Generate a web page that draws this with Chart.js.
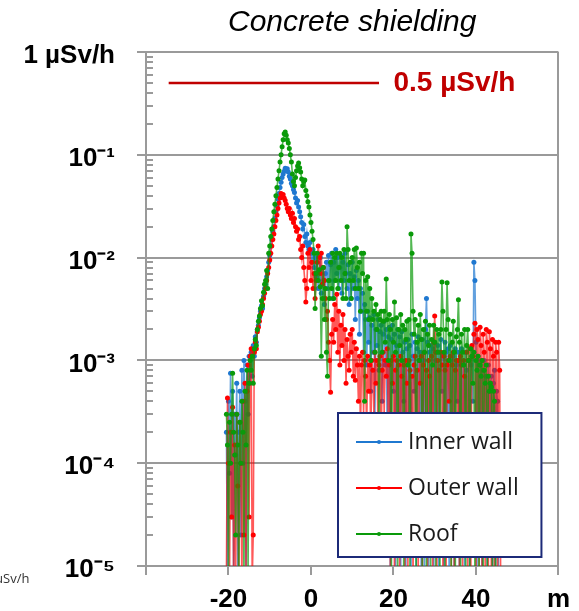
<!DOCTYPE html>
<html>
<head>
<meta charset="utf-8">
<script src="https://cdn.jsdelivr.net/npm/chart.js@4.4.1/dist/chart.umd.min.js"></script>
<style>
  html, body { margin: 0; padding: 0; background: #fff; }
</style>
</head>
<body>
<canvas id="myChart" width="579" height="611"></canvas>
<script>
// position along the survey line (m), 8 readings per row
var positions = [
  -20.5, -20.25, -20, -19.75, -19.5, -19.25, -19, -18.75,
  -18.5, -18.25, -18, -17.75, -17.5, -17.25, -17, -16.75,
  -16.5, -16.25, -16, -15.75, -15.5, -15.25, -15, -14.75,
  -14.5, -14.25, -14, -13.75, -13.5, -13.25, -13, -12.75,
  -12.5, -12.25, -12, -11.75, -11.5, -11.25, -11, -10.75,
  -10.5, -10.25, -10, -9.75, -9.5, -9.25, -9, -8.75,
  -8.5, -8.25, -8, -7.75, -7.5, -7.25, -7, -6.75,
  -6.5, -6.25, -6, -5.75, -5.5, -5.25, -5, -4.75,
  -4.5, -4.25, -4, -3.75, -3.5, -3.25, -3, -2.75,
  -2.5, -2.25, -2, -1.75, -1.5, -1.25, -1, -0.75,
  -0.5, -0.25, 0, 0.25, 0.5, 0.75, 1, 1.25,
  1.5, 1.75, 2, 2.25, 2.5, 2.75, 3, 3.25,
  3.5, 3.75, 4, 4.25, 4.5, 4.75, 5, 5.25,
  5.5, 5.75, 6, 6.25, 6.5, 6.75, 7, 7.25,
  7.5, 7.75, 8, 8.25, 8.5, 8.75, 9, 9.25,
  9.5, 9.75, 10, 10.25, 10.5, 10.75, 11, 11.25,
  11.5, 11.75, 12, 12.25, 12.5, 12.75, 13, 13.25,
  13.5, 13.75, 14, 14.25, 14.5, 14.75, 15, 15.25,
  15.5, 15.75, 16, 16.25, 16.5, 16.75, 17, 17.25,
  17.5, 17.75, 18, 18.25, 18.5, 18.75, 19, 19.25,
  19.5, 19.75, 20, 20.25, 20.5, 20.75, 21, 21.25,
  21.5, 21.75, 22, 22.25, 22.5, 22.75, 23, 23.25,
  23.5, 23.75, 24, 24.25, 24.5, 24.75, 25, 25.25,
  25.5, 25.75, 26, 26.25, 26.5, 26.75, 27, 27.25,
  27.5, 27.75, 28, 28.25, 28.5, 28.75, 29, 29.25,
  29.5, 29.75, 30, 30.25, 30.5, 30.75, 31, 31.25,
  31.5, 31.75, 32, 32.25, 32.5, 32.75, 33, 33.25,
  33.5, 33.75, 34, 34.25, 34.5, 34.75, 35, 35.25,
  35.5, 35.75, 36, 36.25, 36.5, 36.75, 37, 37.25,
  37.5, 37.75, 38, 38.25, 38.5, 38.75, 39, 39.25,
  39.5, 39.75, 40, 40.25, 40.5, 40.75, 41, 41.25,
  41.5, 41.75, 42, 42.25, 42.5, 42.75, 43, 43.25,
  43.5, 43.75, 44, 44.25, 44.5, 44.75, 45, 45.25,
  45.5, 45.75, 46
];

// dose rate, µSv/h
var innerWall = [
  2e-4, 6e-6, 4e-4, 8e-5, 7.5e-4, 3e-5, 5e-4, 7e-6,
  3e-4, 1.2e-4, 6e-4, 8e-6, 2e-4, 5e-4, 2e-5, 8e-4,
  1e-4, 1e-3, 4e-4, 9e-6, 9e-4, 3e-4, 1.1e-3, 6e-4,
  1.2e-3, 7e-4, 1.4e-3, 1.1e-3, 1.7e-3, 1.5e-3, 2e-3, 2.2e-3,
  2.6e-3, 3e-3, 3.4e-3, 3.2e-3, 4.2e-3, 5e-3, 5.5e-3, 6.5e-3,
  7.5e-3, 9e-3, 1.05e-2, 1.3e-2, 1.5e-2, 1.8e-2, 2e-2, 2.4e-2,
  2.8e-2, 3.2e-2, 3.7e-2, 4.2e-2, 4.8e-2, 5.4e-2, 6e-2, 6.5e-2,
  6.9e-2, 7.4e-2, 7.2e-2, 7.3e-2, 6.8e-2, 6.2e-2, 5.8e-2, 5.3e-2,
  5e-2, 4.6e-2, 4.3e-2, 3.8e-2, 3.4e-2, 3.6e-2, 3.1e-2, 2.8e-2,
  2.5e-2, 2.2e-2, 1.9e-2, 2.1e-2, 1.6e-2, 1.4e-2, 1.7e-2, 1.3e-2,
  1.2e-2, 1.4e-2, 1.1e-2, 9e-3, 1.2e-2, 8e-3, 1e-2, 6.5e-3,
  9e-3, 5e-3, 7.5e-3, 1e-2, 4.5e-3, 8e-3, 6e-3, 3.5e-3,
  7e-3, 9e-3, 5e-3, 1.05e-2, 6e-3, 8.5e-3, 1.1e-2, 4e-3,
  9e-3, 6e-3, 1.2e-2, 7e-3, 1e-2, 5e-3, 8e-3, 1.05e-2,
  4.5e-3, 9e-3, 6e-3, 1.1e-2, 7e-3, 5e-3, 8.5e-3, 3.5e-3,
  7e-3, 4e-3, 9e-3, 5e-3, 6.5e-3, 2.5e-3, 7.5e-3, 4e-3,
  6e-3, 1.8e-3, 5e-3, 3e-3, 4.5e-3, 1.2e-3, 3.5e-3, 2.5e-3,
  9e-4, 3e-3, 1.5e-3, 2.6e-3, 5e-4, 2.2e-3, 1.2e-3, 2.8e-3,
  3e-4, 2e-3, 1.4e-3, 2.5e-3, 8e-4, 1.9e-3, 2.2e-3, 4e-4,
  1.8e-3, 2.4e-3, 9e-4, 2e-3, 1.5e-4, 1.7e-3, 2.1e-3, 6e-6,
  1.6e-3, 2.2e-3, 5e-4, 1.8e-3, 8e-6, 1.4e-3, 2e-3, 3e-4,
  1.7e-3, 7e-6, 1.9e-3, 1.2e-3, 4e-4, 1.5e-3, 9e-6, 1.3e-3,
  1.6e-3, 2e-4, 1.4e-3, 6e-6, 1.8e-3, 1.1e-3, 5e-4, 1.5e-3,
  8e-6, 1.3e-3, 1.7e-3, 3e-4, 1.2e-3, 7e-6, 1.6e-3, 1e-3,
  9e-6, 2e-3, 4e-3, 1.5e-3, 6e-6, 1.2e-3, 1.4e-3, 2e-4,
  1.3e-3, 8e-6, 1.5e-3, 1e-3, 3e-4, 1.4e-3, 7e-6, 1.2e-3,
  1.6e-3, 5e-4, 1.1e-3, 6e-6, 1.5e-3, 1.2e-3, 2e-4, 1.3e-3,
  9e-6, 1.4e-3, 1e-3, 3e-4, 1.1e-3, 7e-6, 1.3e-3, 9e-4,
  4e-4, 1.2e-3, 8e-6, 1e-3, 1.3e-3, 2e-4, 9e-4, 6e-6,
  1.2e-3, 8e-4, 3e-4, 1e-3, 7e-6, 9e-4, 1.1e-3, 4e-4,
  9e-3, 6e-3, 1.5e-3, 8e-6, 1.1e-3, 9e-4, 2e-4, 1e-3,
  6e-6, 8e-4, 1e-3, 3e-4, 7e-4, 8e-6, 9e-4, 5e-4,
  2e-4, 7e-4, 6e-6, 6e-4, 8e-4, 9e-6, 5e-4, 4e-4,
  6e-6, null, null
];

var outerWall = [
  8e-6, 4.3e-4, 1e-4, 7e-6, 2e-4, 3e-5, 3.5e-4, 6e-6,
  1.5e-4, 9e-6, 3e-4, 6e-5, 7e-6, 2.5e-4, 1e-4, 6e-6,
  4e-4, 2e-5, 6e-4, 8e-6, 5e-4, 9e-4, 3e-5, 1.1e-3,
  1.3e-3, 7e-6, 2e-5, 1.2e-3, 1.5e-3, 1.3e-3, 1.9e-3, 2.1e-3,
  2.4e-3, 2.8e-3, 3e-3, 3.5e-3, 4e-3, 4.5e-3, 5e-3, 6e-3,
  7e-3, 8e-3, 9.5e-3, 1.1e-2, 1.3e-2, 1.5e-2, 1.7e-2, 2e-2,
  2.3e-2, 2.6e-2, 3e-2, 3.4e-2, 3.8e-2, 4.2e-2, 4e-2, 4.1e-2,
  3.8e-2, 3.6e-2, 3.3e-2, 3e-2, 2.8e-2, 3e-2, 2.6e-2, 2.4e-2,
  2.7e-2, 2.2e-2, 2.4e-2, 2e-2, 1.8e-2, 1.9e-2, 1.5e-2, 1.6e-2,
  1.2e-2, 1e-2, 1.3e-2, 8e-3, 6e-3, 3.7e-3, 5e-3, 1.1e-2,
  8e-3, 1.2e-2, 6e-3, 9e-3, 5e-3, 7e-3, 4e-3, 6e-3,
  9e-3, 1.3e-2, 1e-2, 7e-3, 1.1e-2, 5.5e-3, 8e-3, 6e-3,
  4e-3, 2.5e-3, 3e-3, 1.5e-3, 1e-3, 4.9e-4, 1.8e-3, 2.5e-3,
  1.5e-3, 3.5e-3, 2e-3, 4.4e-3, 1.2e-3, 3e-3, 9e-4, 2.2e-3,
  1.4e-3, 2.8e-3, 1e-3, 2e-3, 6e-4, 1.6e-3, 1.1e-3, 8e-4,
  1.8e-3, 1.2e-3, 2e-3, 7e-4, 1.5e-3, 6.4e-4, 1.3e-3, 9e-4,
  4e-4, 1.1e-3, 2e-4, 9e-4, 1.2e-3, 3e-4, 1e-3, 7e-4,
  2e-4, 1.1e-3, 5e-4, 9e-4, 1.5e-4, 1e-3, 8e-4, 3e-4,
  1.2e-3, 6e-4, 1e-3, 2e-4, 9e-4, 1.1e-3, 1e-4, 8e-4,
  1.2e-3, 3e-4, 1e-3, 7e-4, 1.3e-3, 2e-4, 9e-4, 8e-6,
  1e-3, 6e-4, 1.1e-3, 7e-6, 8e-4, 1e-3, 3e-4, 9e-4,
  6e-6, 1.1e-3, 7e-4, 2e-4, 9e-4, 8e-6, 1e-3, 6e-4,
  9e-6, 1e-3, 8e-4, 3e-4, 7e-4, 6e-6, 9e-4, 1.1e-3,
  2e-4, 8e-4, 7e-6, 1e-3, 6e-4, 1.1e-3, 6e-6, 9e-4,
  1.2e-3, 3e-4, 8e-4, 9e-6, 1e-3, 7e-4, 2e-4, 1.1e-3,
  7e-6, 1.5e-3, 2.7e-3, 1.2e-3, 6e-6, 1e-3, 8e-4, 3e-4,
  1.2e-3, 9e-4, 7e-6, 1.1e-3, 8e-4, 6e-6, 9e-4, 1e-3,
  4e-4, 1.1e-3, 8e-6, 9e-4, 1.2e-3, 6e-6, 8e-4, 1e-3,
  3e-4, 1e-3, 7e-6, 1.1e-3, 9e-4, 8e-6, 1e-3, 7e-4,
  2e-4, 1.2e-3, 6e-6, 1e-3, 1.3e-3, 7e-6, 1.4e-3, 1.1e-3,
  1.8e-3, 2.3e-3, 6e-6, 2e-3, 1.6e-3, 9e-6, 2.1e-3, 1.4e-3,
  6e-6, 1.8e-3, 1.2e-3, 7e-6, 2e-3, 1.5e-3, 8e-6, 1.9e-3,
  1.3e-3, 6e-6, 1.6e-3, 1.1e-3, 7e-6, 1.5e-3, 1.2e-3, 6e-6,
  1.5e-3, 8e-4, 6e-6
];

var roof = [
  3e-4, 1.5e-4, 8e-6, 2.5e-4, 1e-4, 3e-4, 7.5e-4, 2e-4,
  1.2e-4, 2e-5, 3e-4, 1.5e-4, 6e-6, 2.5e-4, 1e-4, 4e-4,
  2e-4, 8e-6, 5e-4, 1.5e-4, 8e-4, 9e-6, 6e-4, 1e-3,
  8e-4, 1.1e-3, 6e-4, 1.3e-3, 1.6e-3, 1.4e-3, 2e-3, 2.4e-3,
  2.7e-3, 3.2e-3, 3.8e-3, 3.4e-3, 4.6e-3, 5.5e-3, 6e-3, 7.5e-3,
  5e-3, 1.1e-2, 1.3e-2, 1.6e-2, 1.9e-2, 2.3e-2, 2.8e-2, 3.3e-2,
  4e-2, 4.8e-2, 5.8e-2, 7e-2, 8.5e-2, 0.1, 0.12, 0.14,
  0.16, 0.167, 0.155, 0.14, 0.13, 0.115, 0.1, 0.085,
  0.065, 0.055, 0.05, 0.06, 0.07, 0.078, 0.083, 0.075,
  0.068, 0.058, 0.05, 0.055, 0.057, 0.045, 0.04, 0.035,
  0.031, 0.026, 0.022, 0.018, 0.015, 0.011, 3.2e-3, 7e-3,
  1.1e-2, 6e-3, 7.6e-3, 5.2e-3, 1.1e-3, 4e-3, 8e-3, 2.5e-3,
  5e-3, 1.2e-3, 7e-4, 6e-3, 4e-3, 9e-3, 5e-3, 1.1e-2,
  4e-3, 1e-2, 6e-3, 1.1e-2, 5e-3, 8e-3, 1.1e-2, 6e-3,
  1e-2, 4e-3, 1.2e-2, 7e-3, 4e-3, 2e-2, 1.2e-2, 6e-3,
  9e-3, 4e-3, 1e-2, 6e-3, 1.2e-2, 5e-3, 1.24e-2, 8e-3,
  5e-3, 9e-3, 3e-3, 1.1e-2, 7e-3, 1.1e-2, 4e-4, 6e-3,
  3e-3, 6.5e-3, 2.5e-3, 5e-3, 1e-3, 4e-3, 2.5e-3, 3e-3,
  1.2e-3, 3.5e-3, 2e-3, 2.8e-3, 1e-4, 2.5e-3, 3e-3, 1.2e-3,
  2.4e-3, 3e-3, 1.5e-3, 6.2e-3, 2.5e-3, 1e-3, 2.8e-3, 2e-3,
  8e-6, 2.5e-3, 1.5e-3, 3.7e-3, 1.2e-3, 2.6e-3, 7e-6, 2e-3,
  1.4e-3, 2.8e-3, 1e-3, 2.2e-3, 6e-6, 2e-3, 1.6e-3, 2.4e-3,
  9e-4, 2.5e-3, 8e-6, 1.7e-2, 1.1e-2, 3e-3, 1.8e-3, 2.5e-3,
  7e-6, 1.5e-3, 2.2e-3, 1e-3, 2.8e-3, 1.6e-3, 8e-6, 2e-3,
  1.2e-3, 2.4e-3, 6e-6, 1.8e-3, 1.4e-3, 2.2e-3, 9e-6, 1.6e-3,
  9e-4, 2.2e-3, 1.5e-3, 7e-6, 2e-3, 1.2e-3, 1.8e-3, 6e-6,
  2e-3, 5.8e-3, 3e-3, 1.2e-3, 9e-6, 2e-3, 5.7e-3, 2.5e-3,
  1e-3, 1.8e-3, 6e-6, 1.5e-3, 2.4e-3, 1.2e-3, 8e-6, 1.7e-3,
  2e-3, 3.9e-3, 1.5e-3, 7e-6, 1.8e-3, 1.2e-3, 9e-4, 2e-3,
  6e-6, 1.4e-3, 2e-3, 1e-3, 8e-6, 1.3e-3, 1.1e-3, 6e-4,
  1.2e-3, 7e-6, 1e-3, 8e-4, 1.1e-3, 6e-6, 9e-4, 7e-4,
  1e-3, 8e-6, 8e-4, 6e-4, 9e-4, 7e-6, 7e-4, 5e-4,
  6e-4, 5.5e-4, 7e-6, 5e-4, 4e-4, 6e-6, 3e-4, null,
  null, null, null
];

var seriesNames = ['Inner wall', 'Outer wall', 'Roof'];
var seriesColors = ['#1f78d0', '#ff0000', '#0a9a0a'];
var seriesLineColors = ['rgba(31,120,208,0.7)', 'rgba(255,0,0,0.65)', 'rgba(10,154,10,0.7)'];

var xTickValues = [-40, -20, 0, 20, 40, 60];
var xTickLabels = ['', '-20', '0', '20', '40', 'm'];
var yTickValues = [1, 0.1, 0.01, 0.001, 0.0001, 0.00001];
var yTickLabels = ['1 µSv/h', '10⁻¹', '10⁻²', '10⁻³', '10⁻⁴', '10⁻⁵'];

// 0.5 µSv/h reference level
var limitValue = 0.5;
var limitFrom = -34.5;
var limitTo = 16.5;
var limitLabelAt = 20;
var limitText = '0.5 µSv/h';

var axisGray = '#9a9a9a';
var boldFont = '"Liberation Sans", Arial, sans-serif';

function toPoints(vals) {
  return positions.map(function (x, i) { return { x: x, y: vals[i] }; });
}

function isDecade(v) {
  var l = Math.log10(v);
  return Math.abs(l - Math.round(l)) < 1e-6;
}

var datasets = [innerWall, outerWall, roof].map(function (vals, i) {
  return {
    label: seriesNames[i],
    data: toPoints(vals),
    borderColor: seriesLineColors[i],
    backgroundColor: seriesColors[i],
    pointBackgroundColor: seriesColors[i],
    pointBorderColor: seriesColors[i],
    pointBorderWidth: 0,
    pointRadius: 2.5,
    borderWidth: 1.6,
    order: 3 - i
  };
});
datasets.push({
  label: 'limit',
  data: [{ x: limitFrom, y: limitValue }, { x: limitTo, y: limitValue }],
  borderColor: '#c00000',
  borderWidth: 2.5,
  pointRadius: 0,
  order: 0
});

var decor = {
  id: 'decor',
  afterDraw: function (chart) {
    var ctx = chart.ctx, ca = chart.chartArea;
    var xs = chart.scales.x, ys = chart.scales.y;
    ctx.save();

    // minor log ticks inside the y axis
    ctx.strokeStyle = axisGray;
    ctx.lineWidth = 2;
    for (var e = -5; e < 0; e++) {
      for (var k = 2; k <= 9; k++) {
        var py = Math.round(ys.getPixelForValue(k * Math.pow(10, e)));
        ctx.beginPath();
        ctx.moveTo(ca.left, py);
        ctx.lineTo(ca.left + 7, py);
        ctx.stroke();
      }
    }

    // reference level label
    ctx.fillStyle = '#c00000';
    ctx.font = 'bold 28px ' + boldFont;
    ctx.textAlign = 'left';
    ctx.textBaseline = 'middle';
    ctx.fillText(limitText, xs.getPixelForValue(limitLabelAt), ys.getPixelForValue(limitValue));

    // legend box
    var bl = ca.left + 192, bt = ca.top + 361, br = ca.right - 17, bb = ca.bottom - 9;
    ctx.fillStyle = '#fff';
    ctx.fillRect(bl, bt, br - bl, bb - bt);
    ctx.strokeStyle = '#1c2a78';
    ctx.lineWidth = 2;
    ctx.strokeRect(bl, bt, br - bl, bb - bt);
    ctx.font = '23px "Open Sans", sans-serif';
    ctx.textBaseline = 'middle';
    for (var i = 0; i < seriesNames.length; i++) {
      var ly = bt + 29 + i * 46;
      ctx.strokeStyle = seriesColors[i];
      ctx.lineWidth = 2;
      ctx.beginPath();
      ctx.moveTo(bl + 18, ly);
      ctx.lineTo(bl + 64, ly);
      ctx.stroke();
      ctx.fillStyle = seriesColors[i];
      ctx.beginPath();
      ctx.arc(bl + 41, ly, 2, 0, Math.PI * 2);
      ctx.fill();
      ctx.fillStyle = '#1a1a1a';
      ctx.fillText(seriesNames[i], bl + 70, ly);
    }

    // clipped unit note at the bottom left
    ctx.fillStyle = '#333';
    ctx.font = '13px "Open Sans", sans-serif';
    ctx.textAlign = 'left';
    ctx.fillText('µSv/h', -5, 579);

    ctx.restore();
  }
};

var ctx = document.getElementById('myChart').getContext('2d');
var chart = new Chart(ctx, {
  type: 'line',
  data: { datasets: datasets },
  plugins: [decor],
  options: {
    responsive: false,
    animation: false,
    layout: { padding: { left: 0, right: 17, top: 0, bottom: 0 } },
    plugins: {
      legend: { display: false },
      tooltip: { enabled: false },
      title: {
        display: true,
        text: 'Concrete shielding',
        fullSize: false,
        color: '#000',
        font: { family: boldFont, size: 30, style: 'italic', weight: 'normal' },
        padding: { top: 5, bottom: 11 }
      }
    },
    scales: {
      x: {
        type: 'linear',
        min: -40,
        max: 60,
        afterBuildTicks: function (scale) {
          scale.ticks = xTickValues.map(function (v) { return { value: v }; });
        },
        afterFit: function (scale) { scale.height = 45; },
        ticks: {
          autoSkip: false,
          maxRotation: 0,
          padding: 9,
          color: '#000',
          font: { family: boldFont, size: 26, weight: 'bold' },
          callback: function (v) {
            var i = xTickValues.indexOf(v);
            return i >= 0 ? xTickLabels[i] : '';
          }
        },
        grid: {
          drawTicks: true,
          tickLength: 9,
          lineWidth: 2,
          tickColor: axisGray,
          color: function (c) {
            return c.tick && c.tick.value === 60 ? axisGray : 'rgba(0,0,0,0)';
          }
        },
        border: { color: axisGray, width: 2 }
      },
      y: {
        type: 'logarithmic',
        min: 1e-5,
        max: 1,
        afterBuildTicks: function (scale) {
          var t = [];
          for (var e = -5; e <= 0; e++) {
            for (var k = 1; k <= 9; k++) {
              var v = k * Math.pow(10, e);
              if (e === 0 && k > 1) break;
              t.push({ value: v });
            }
          }
          scale.ticks = t;
        },
        afterFit: function (scale) { scale.width = 146; },
        ticks: {
          autoSkip: false,
          padding: 22,
          labelOffset: 4,
          color: '#000',
          font: { family: boldFont, size: 26, weight: 'bold' },
          callback: function (v) {
            for (var i = 0; i < yTickValues.length; i++) {
              if (Math.abs(Math.log10(v) - Math.log10(yTickValues[i])) < 1e-6) return yTickLabels[i];
            }
            return '';
          }
        },
        grid: {
          drawTicks: true,
          tickLength: 9,
          lineWidth: 2,
          color: function (c) {
            return c.tick && isDecade(c.tick.value) ? axisGray : 'rgba(0,0,0,0)';
          },
          tickColor: function (c) {
            return c.tick && isDecade(c.tick.value) ? axisGray : 'rgba(0,0,0,0)';
          }
        },
        border: { color: axisGray, width: 2 }
      }
    }
  }
});
</script>
</body>
</html>
